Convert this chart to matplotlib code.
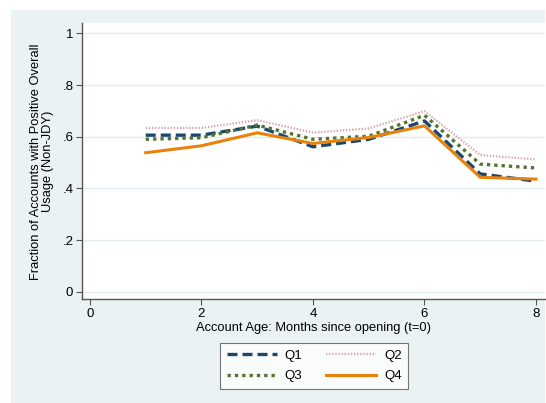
import matplotlib.pyplot as plt
from matplotlib.patches import Rectangle

plt.rcParams['font.family'] = ['Liberation Sans', 'DejaVu Sans']

# data
months = [1, 2, 3, 4, 5, 6, 7, 8]
q1 = [0.606, 0.606, 0.641, 0.561, 0.590, 0.661, 0.456, 0.428]
q2 = [0.634, 0.634, 0.664, 0.616, 0.632, 0.699, 0.529, 0.512]
q3 = [0.590, 0.596, 0.645, 0.590, 0.602, 0.683, 0.494, 0.479]
q4 = [0.538, 0.565, 0.615, 0.574, 0.597, 0.642, 0.443, 0.436]
x_ticks = [0, 2, 4, 6, 8]
y_ticks = [0, 0.2, 0.4, 0.6, 0.8, 1.0]
y_labels = ['0', '.2', '.4', '.6', '.8', '1']

bg = '#eaf2f3'
fig = plt.figure(figsize=(5.46, 4.03), dpi=100)
fig.patches.append(Rectangle((11/546, 0), 534/546, 393/403, transform=fig.transFigure,
                             facecolor=bg, edgecolor='none', zorder=-10))

ax = fig.add_axes([0.1496, 0.2573, 0.8484, 0.6844])
ax.set_facecolor('white')

l1, = ax.plot(months, q1, color='#1a476f', lw=2.4, ls=(0, (3, 1.5)), label='Q1')
l2, = ax.plot(months, q2, color='#d8a0aa', lw=1.6, ls=(0, (0.6, 0.8)), label='Q2')
l3, = ax.plot(months, q3, color='#55752f', lw=2.4, ls=(0, (1, 1.2)), label='Q3')
l4, = ax.plot(months, q4, color='#e8820c', lw=2.2, ls='-', label='Q4')

ax.set_xlim(-0.149, 8.16)
ax.set_ylim(-0.029, 1.038)
ax.set_xticks(x_ticks)
ax.set_yticks(y_ticks)
ax.set_yticklabels(y_labels)
ax.tick_params(labelsize=9.5, length=4, width=0.8, color='#555555', pad=2)
ax.grid(axis='y', color='#e3ecee', lw=1)
ax.set_axisbelow(True)
for s in ['top', 'right']:
    ax.spines[s].set_visible(False)
for s in ['left', 'bottom']:
    ax.spines[s].set_color('#555555')
    ax.spines[s].set_linewidth(1)

ax.set_xlabel('Account Age: Months since opening (t=0)', fontsize=9.3, labelpad=2)
ax.set_ylabel('Fraction of Accounts with Positive Overall\nUsage (Non-JDY)', fontsize=9.3,
              labelpad=6, linespacing=1.0)

# row-wise order like the original: Q1 Q2 / Q3 Q4
leg = ax.legend([l1, l3, l2, l4], ['Q1', 'Q3', 'Q2', 'Q4'], ncol=2, loc='upper center',
                bbox_to_anchor=(0.502, -0.135), fontsize=9.5,
                frameon=True, fancybox=False, edgecolor='#555555', handlelength=3.8,
                columnspacing=1.8, handletextpad=0.6, borderpad=0.5, labelspacing=0.6)
leg.get_frame().set_linewidth(0.8)

fig.savefig('out.png', dpi=100, facecolor='white')
